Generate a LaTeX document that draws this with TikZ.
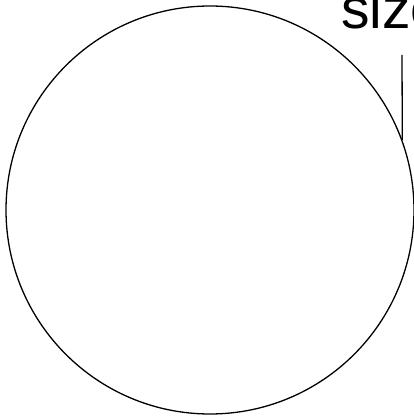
\documentclass[tikz,border=0pt]{standalone}
\usepackage{fontspec}
\setmainfont{Liberation Sans}
\usetikzlibrary{positioning}

\begin{document}
\begin{tikzpicture}[
x=1pt, y=1pt,
ring/.style={circle, draw, line width=1.3pt, inner sep=0pt, minimum size=408pt},
tag/.style={font=\fontsize{57}{57}\selectfont, inner sep=0pt, anchor=base west},
lead/.style={line width=1.3pt}
]
\useasboundingbox (0,0) rectangle (414,418);
\clip (0,0) rectangle (414,418);

\node[ring] (disc) at (210,208) {};
\node[tag] (size) at (341,389) {size};
\coordinate (top) at (402,363);

\draw[lead] (top) -- (disc.20);

\end{tikzpicture}
\end{document}
